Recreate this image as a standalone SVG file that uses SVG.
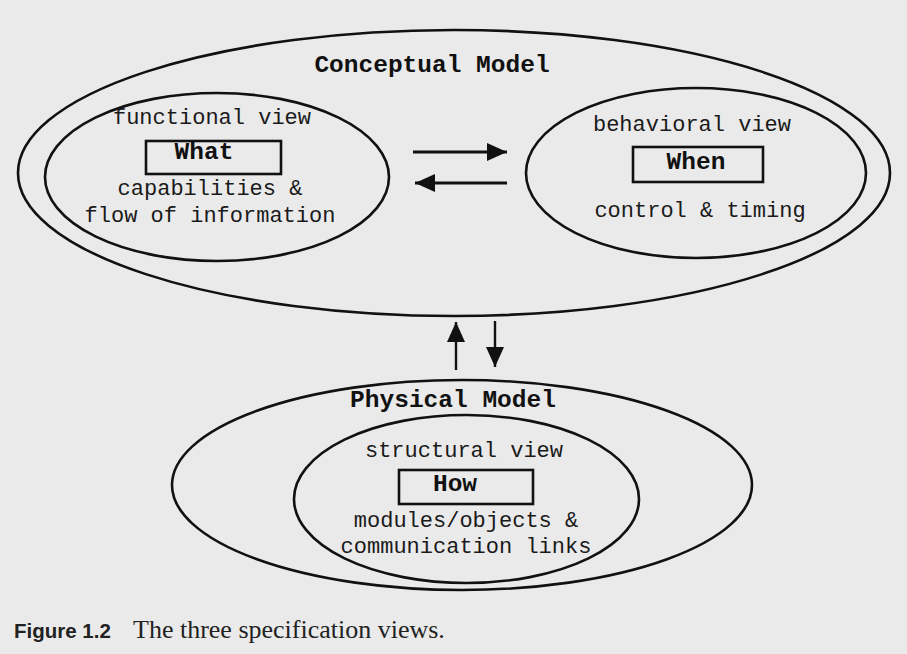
<svg xmlns="http://www.w3.org/2000/svg" width="907" height="654" viewBox="0 0 907 654">
<style>
.shape{fill:none;stroke:#111;stroke-width:2.6}
.t{font-family:"Liberation Mono","Courier New",monospace;font-size:22px;fill:#1a1a1a;text-anchor:middle}
.b{font-family:"Liberation Mono","Courier New",monospace;font-size:24.5px;font-weight:bold;fill:#111;text-anchor:middle}
.c{stroke:#111;fill:none}
</style>
<defs>
<marker id="ah" markerUnits="userSpaceOnUse" markerWidth="22" markerHeight="18" refX="20" refY="9" orient="auto">
<path d="M0,0 L20,9 L0,18 z" fill="#111"/>
</marker>
</defs>
<rect width="907" height="654" fill="#eaeaea"/>
<g id="conceptual-model">
<ellipse class="shape" cx="454" cy="173" rx="436" ry="143"/>
<text class="b" x="432" y="72">Conceptual Model</text>
</g>
<g id="functional-view">
<ellipse class="shape" cx="217" cy="177" rx="172" ry="84"/>
<text class="t" x="212" y="124">functional view</text>
<rect class="shape" x="146" y="141" width="135" height="33"/>
<text class="b" x="204" y="159">What</text>
<text class="t" x="210" y="195">capabilities &amp;</text>
<text class="t" x="210" y="222">flow of information</text>
</g>
<g id="behavioral-view">
<ellipse class="shape" cx="696" cy="173" rx="170" ry="85"/>
<text class="t" x="692" y="131">behavioral view</text>
<rect class="shape" x="633" y="147" width="130" height="35"/>
<text class="b" x="696" y="169">When</text>
<text class="t" x="700" y="217">control &amp; timing</text>
</g>
<g id="physical-model">
<ellipse class="shape" cx="462" cy="485" rx="290" ry="105"/>
<text class="b" x="453" y="407">Physical Model</text>
</g>
<g id="structural-view">
<ellipse class="shape" cx="466.5" cy="499" rx="172.5" ry="84"/>
<text class="t" x="464" y="457">structural view</text>
<rect class="shape" x="399" y="470" width="134" height="34"/>
<text class="b" x="455" y="491">How</text>
<text class="t" x="466" y="527">modules/objects &amp;</text>
<text class="t" x="466" y="553">communication links</text>
</g>
<g id="connectors">
<line class="c" x1="413" y1="152" x2="507" y2="152" stroke-width="3" marker-end="url(#ah)"/>
<line class="c" x1="507" y1="183" x2="415" y2="183" stroke-width="3" marker-end="url(#ah)"/>
<line class="c" x1="456" y1="370" x2="456" y2="322" stroke-width="2.4" marker-end="url(#ah)"/>
<line class="c" x1="495" y1="321" x2="495" y2="367" stroke-width="2.4" marker-end="url(#ah)"/>
</g>
<g id="caption">
<text x="14" y="638" font-family="'Liberation Sans',Arial,sans-serif" font-weight="bold" font-size="20.5" fill="#222">Figure 1.2</text>
<text x="133" y="638" font-family="'Liberation Serif','Times New Roman',serif" font-size="26" fill="#222">The three specification views.</text>
</g>
</svg>
